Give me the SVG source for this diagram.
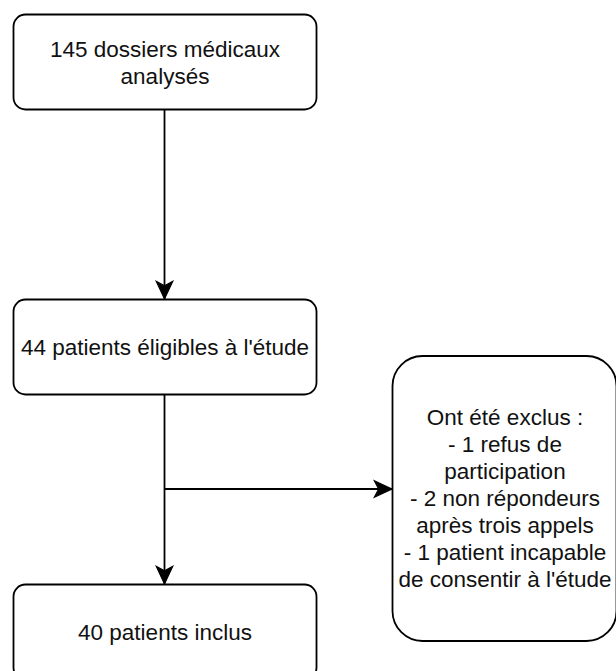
<svg xmlns="http://www.w3.org/2000/svg" width="616" height="671" viewBox="0 0 616 671">
  <defs>
    <marker id="arrow" markerUnits="userSpaceOnUse" markerWidth="20" markerHeight="20" viewBox="-17 -9 18 18" refX="0" refY="0" orient="auto">
      <path d="M0,0 L-16,-7.5 L-12,0 L-16,7.5 Z" fill="#000" stroke="#000" stroke-width="1" stroke-linejoin="miter"/>
    </marker>
    <style>
      .box { fill: #fff; stroke: #000; stroke-width: 1.8; }
      .lbl { font-family: "Liberation Sans", Arial, Helvetica, sans-serif; font-size: 22.5px; fill: #111; text-anchor: middle; }
      .conn { fill: none; stroke: #000; stroke-width: 1.8; }
    </style>
  </defs>
  <rect width="616" height="671" fill="#fff"/>

  <g id="connectors">
    <path class="conn" d="M164.5,110 L164.5,299" marker-end="url(#arrow)"/>
    <path class="conn" d="M164.5,394 L164.5,584" marker-end="url(#arrow)"/>
    <path class="conn" d="M164.5,489 L392,489" marker-end="url(#arrow)"/>
  </g>

  <g id="node-dossiers">
    <rect class="box" x="13.5" y="14.5" width="303" height="95" rx="12" ry="12"/>
    <text class="lbl" x="165" y="56.5">145 dossiers médicaux</text>
    <text class="lbl" x="165" y="83.5">analysés</text>
  </g>

  <g id="node-eligibles">
    <rect class="box" x="13.5" y="299.5" width="303" height="95" rx="12" ry="12"/>
    <text class="lbl" x="165" y="355">44 patients éligibles à l'étude</text>
  </g>

  <g id="node-exclus">
    <rect class="box" x="392.5" y="356" width="224" height="285" rx="30" ry="30"/>
    <text class="lbl" x="505" y="424.5">Ont été exclus :</text>
    <text class="lbl" x="505" y="451.5">- 1 refus de</text>
    <text class="lbl" x="505" y="478.5">participation</text>
    <text class="lbl" x="505" y="505.5">- 2 non répondeurs</text>
    <text class="lbl" x="505" y="532.5">après trois appels</text>
    <text class="lbl" x="505" y="559.5">- 1 patient incapable</text>
    <text class="lbl" x="505" y="586.5">de consentir à l'étude</text>
  </g>

  <g id="node-inclus">
    <rect class="box" x="13.5" y="584.5" width="303" height="95" rx="12" ry="12"/>
    <text class="lbl" x="165" y="640">40 patients inclus</text>
  </g>
</svg>
